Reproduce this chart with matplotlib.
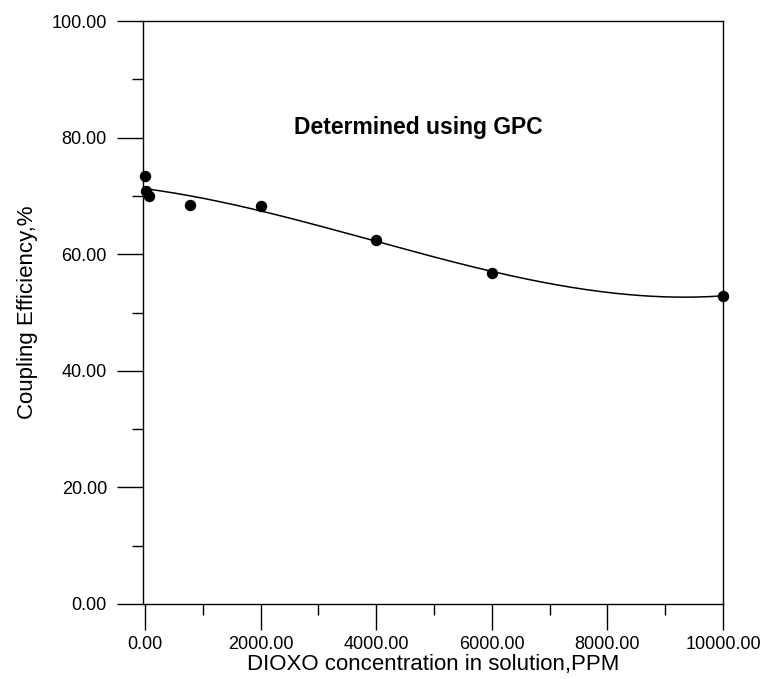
from matplotlib import pyplot as plt
from matplotlib.ticker import MultipleLocator, FormatStrFormatter
import numpy as np

plt.rcParams['font.family'] = ['Liberation Sans', 'DejaVu Sans']

# coupling efficiency measured by GPC vs DIOXO level
dioxo_ppm = [0, 10, 60, 780, 2000, 4000, 6000, 10000]
coupling_eff = [73.5, 70.9, 70.0, 68.4, 68.3, 62.4, 56.8, 52.9]

fig = plt.figure(figsize=(7.66, 6.79), dpi=100)
ax = fig.add_axes([0.1867, 0.1105, 0.7572, 0.8585])

# cubic trend through the points
coef = np.polyfit(dioxo_ppm, coupling_eff, 3)
xs = np.linspace(min(dioxo_ppm), max(dioxo_ppm), 200)
ax.plot(xs, np.polyval(coef, xs), color='black', lw=1.1)

ax.scatter(dioxo_ppm, coupling_eff, s=52, color='black', zorder=3, clip_on=False)

ax.set_xlim(-35, 10000)
ax.set_ylim(0, 100)
ax.xaxis.set_major_locator(MultipleLocator(2000))
ax.xaxis.set_minor_locator(MultipleLocator(1000))
ax.yaxis.set_major_locator(MultipleLocator(20))
ax.yaxis.set_minor_locator(MultipleLocator(10))
ax.xaxis.set_major_formatter(FormatStrFormatter('%.2f'))
ax.yaxis.set_major_formatter(FormatStrFormatter('%.2f'))
ax.tick_params(which='major', direction='out', length=19, width=1, labelsize=13, pad=7)
ax.tick_params(axis='x', which='major', pad=4)
ax.tick_params(which='minor', direction='out', length=8, width=1)

for s in ax.spines.values():
    s.set_linewidth(1)

ax.set_xlabel('DIOXO concentration in solution,PPM', fontsize=16, labelpad=1)
ax.set_ylabel('Coupling Efficiency,%', fontsize=16, labelpad=10)

ax.text(2570, 81.7, 'Determined using GPC', fontsize=16.5, fontweight='bold', va='center')

fig.savefig('out.png', dpi=100)
